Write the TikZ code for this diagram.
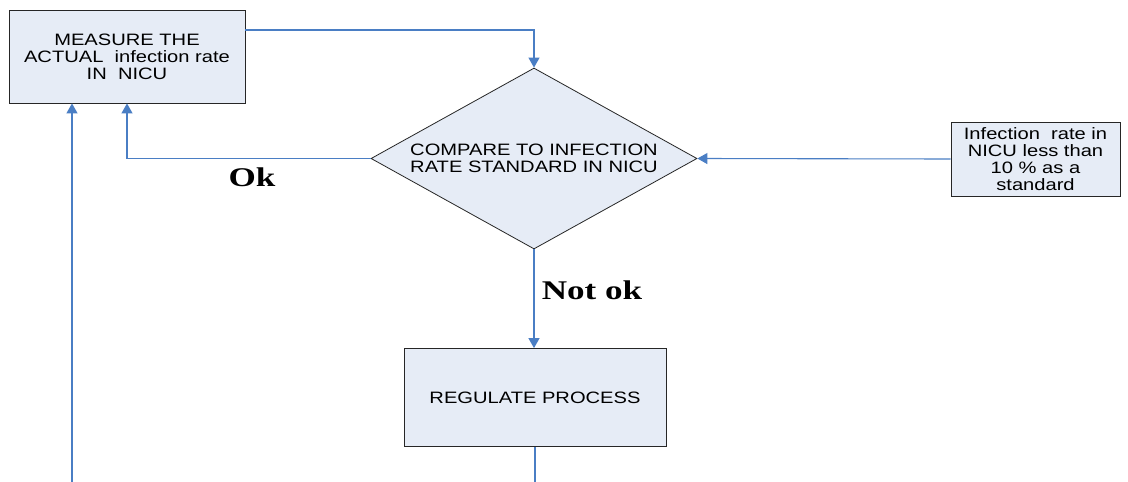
\documentclass[tikz,border=0pt]{standalone}
\usepackage{fontspec}
\setmainfont{Liberation Serif}
\newfontfamily\arialfont{Liberation Sans}
\usetikzlibrary{arrows.meta,shapes.geometric}
\definecolor{boxfill}{HTML}{E6ECF6}
\definecolor{linkblue}{HTML}{4A7EC4}
% box text: Arial-like, slightly widened, sitting a little low in its box
\newcommand{\boxtext}[1]{\raisebox{-2.5pt}[\height][\depth]{\scalebox{1.22}[1]{\arialfont\fontsize{16.5}{17}\selectfont\begin{tabular}{@{}c@{}}#1\end{tabular}}}}
\newcommand{\flagtext}[1]{\scalebox{1.3}[1]{\bfseries\fontsize{27}{30}\selectfont #1}}
\tikzset{
  x=1pt, y=-1pt,
  procbox/.style={draw=black!85, fill=boxfill, line width=0.8pt, rectangle, inner sep=0pt},
  decide/.style={draw=black!85, fill=boxfill, line width=0.8pt, diamond, shape aspect=1.8, inner sep=0pt,
                 minimum width=326pt, minimum height=181pt},
  conn/.style={draw=linkblue, line width=1.1pt},
  arr/.style={conn, -{Triangle[width=11pt,length=10pt]}},
  flag/.style={inner sep=0pt}
}
\begin{document}
\begin{tikzpicture}
\useasboundingbox (0,0) rectangle (1128,482);
\fill[white] (0,0) rectangle (1128,482);

% process boxes and decision
\node[procbox, minimum width=236pt, minimum height=93pt] (meas) at (127,56.5)
  {\boxtext{MEASURE THE\\ACTUAL\ \ infection rate\\IN\ \ NICU}};
\node[decide] (cmp) at (534,158.5)
  {\boxtext{COMPARE TO INFECTION\\RATE STANDARD IN NICU}};
\node[procbox, minimum width=169pt, minimum height=74pt] (std) at (1035.5,159)
  {\boxtext{Infection\ \ rate in\\NICU less than\\10 \% as a\\standard}};
\node[procbox, minimum width=262pt, minimum height=98pt] (reg) at (535,397.5)
  {\boxtext{REGULATE PROCESS}};

% branch labels
\node[flag] (ok) at (252,177) {\flagtext{Ok}};
\node[flag] (notok) at (592,290) {\flagtext{Not ok}};

% free ends at the lower border
\coordinate (loopin) at (72,482);
\coordinate (regout) at (535,482);

% connectors
\draw[arr] ([yshift=26.5pt]meas.east) -| (cmp.north);
\draw[arr] (cmp.west) -| (meas.south);
\draw[arr] (std.west) -- (cmp.east);
\draw[arr] (cmp.south) -- (cmp.south |- reg.north);
\draw[conn] (reg.south) -- (regout);
\draw[arr] (loopin) -- (loopin |- meas.south);
\end{tikzpicture}
\end{document}
